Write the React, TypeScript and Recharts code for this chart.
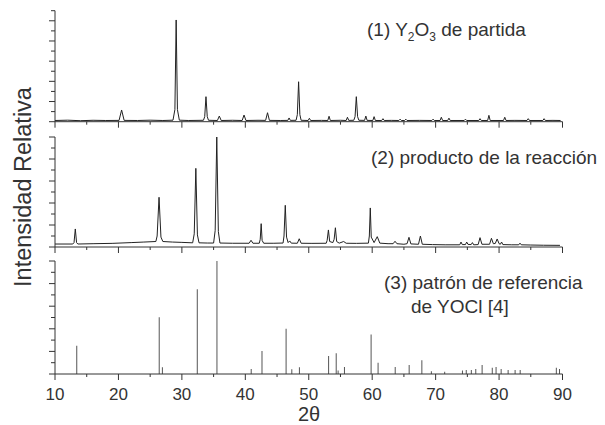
import React from "react";
import { LineChart, Line, BarChart, Bar, XAxis, YAxis } from "recharts";

// 2θ ticks shared by the three panels
const angleTicks = [10, 15, 20, 25, 30, 35, 40, 45, 50, 55, 60, 65, 70, 75, 80, 85, 90];
const ticksTop = [0, 1, 2, 3, 4, 5, 6, 7, 8, 9, 10, 11];
const ticksLower = [0, 1, 2, 3, 4, 5, 6, 7, 8, 9, 10];

// (1) Y2O3 de partida : [2θ, intensidad]
const scanY2O3: [number, number][] = [
  [10, 0.12], [12, 0.15], [14, 0.1], [16, 0.14], [18, 0.12], [20.1, 0.13], [20.5, 1.16], [20.9, 0.13],
  [23, 0.12], [25, 0.15], [27, 0.12], [28.6, 0.15], [28.9, 1.2], [29.1, 10.08], [29.3, 1.2], [29.6, 0.15],
  [31, 0.12], [33.4, 0.14], [33.6, 0.5], [33.8, 2.48], [34.0, 0.5], [34.2, 0.14], [35.6, 0.12], [35.9, 0.56],
  [36.2, 0.12], [38, 0.14], [39.5, 0.12], [39.8, 0.66], [40.1, 0.12], [42, 0.14], [43.2, 0.13], [43.5, 0.89],
  [43.8, 0.13], [45.5, 0.12], [46.7, 0.13], [46.9, 0.37], [47.1, 0.13], [48.0, 0.14], [48.2, 0.7], [48.4, 3.96],
  [48.6, 0.7], [48.8, 0.14], [49.9, 0.12], [50.1, 0.34], [50.3, 0.12], [52, 0.13], [53.0, 0.12], [53.2, 0.54],
  [53.4, 0.12], [55, 0.14], [55.9, 0.12], [56.1, 0.44], [56.3, 0.13], [57.1, 0.14], [57.3, 0.5], [57.5, 2.48],
  [57.7, 0.5], [57.9, 0.14], [58.8, 0.13], [59.0, 0.56], [59.2, 0.13], [60.1, 0.12], [60.3, 0.5], [60.5, 0.12],
  [61.5, 0.12], [61.7, 0.3], [61.9, 0.12], [63, 0.13], [64.2, 0.12], [64.4, 0.25], [64.6, 0.12], [65.1, 0.12],
  [65.3, 0.25], [65.5, 0.12], [67.5, 0.13], [69.4, 0.12], [69.6, 0.25], [69.8, 0.12], [70.7, 0.12], [70.9, 0.44],
  [71.1, 0.12], [71.9, 0.12], [72.1, 0.35], [72.3, 0.12], [74.5, 0.12], [74.7, 0.25], [74.9, 0.12], [76.8, 0.12],
  [77.0, 0.3], [77.2, 0.12], [78.2, 0.12], [78.4, 0.63], [78.6, 0.12], [80.7, 0.12], [80.9, 0.44], [81.1, 0.12],
  [82.5, 0.13], [84.4, 0.12], [84.6, 0.3], [84.8, 0.12], [86.9, 0.12], [87.1, 0.3], [87.3, 0.12], [88.5, 0.13],
  [89.7, 0.12],
];

// (2) producto de la reacción
const scanProduct: [number, number][] = [
  [10, 0.27], [12.8, 0.27], [13.0, 0.4], [13.2, 1.64], [13.4, 0.4], [13.6, 0.27], [16, 0.3], [19, 0.33],
  [22, 0.4], [24, 0.45], [25.9, 0.5], [26.1, 1.0], [26.4, 4.52], [26.7, 0.9], [27.0, 0.5], [28.5, 0.45],
  [30, 0.42], [31.7, 0.38], [31.95, 1.2], [32.2, 7.15], [32.45, 1.1], [32.7, 0.38], [34, 0.36], [35.0, 0.36],
  [35.25, 1.5], [35.5, 10.0], [35.75, 1.4], [36.0, 0.36], [38, 0.34], [40.6, 0.34], [40.9, 0.61], [41.2, 0.34],
  [42.2, 0.34], [42.35, 0.7], [42.5, 2.12], [42.65, 0.6], [42.9, 0.34], [44.5, 0.34], [45.95, 0.36], [46.1, 1.0],
  [46.3, 3.79], [46.5, 0.9], [46.75, 0.4], [47.0, 0.55], [47.25, 0.35], [48.2, 0.34], [48.5, 0.75], [48.8, 0.34],
  [50.5, 0.33], [52.75, 0.34], [52.9, 0.6], [53.1, 1.55], [53.3, 0.5], [53.8, 0.4], [54.0, 0.7], [54.2, 1.75],
  [54.4, 0.5], [54.8, 0.35], [55.5, 0.5], [55.9, 0.34], [57.5, 0.33], [59.4, 0.35], [59.55, 1.0], [59.7, 3.55],
  [59.85, 0.9], [60.3, 0.4], [60.8, 0.94], [61.2, 0.35], [62.5, 0.3], [63.3, 0.3], [63.6, 0.52], [63.9, 0.3],
  [65.0, 0.25], [65.5, 0.3], [65.8, 0.88], [66.1, 0.28], [67.3, 0.25], [67.6, 1.0], [67.9, 0.25], [69.5, 0.22],
  [71.5, 0.2], [73.8, 0.2], [74.0, 0.45], [74.2, 0.22], [74.7, 0.22], [74.9, 0.45], [75.1, 0.24], [75.6, 0.22],
  [75.8, 0.4], [76.0, 0.2], [76.7, 0.22], [77.0, 0.85], [77.3, 0.25], [78.5, 0.25], [78.8, 0.79], [79.1, 0.3],
  [79.4, 0.32], [79.7, 0.73], [80.0, 0.3], [80.2, 0.25], [80.4, 0.45], [80.6, 0.22], [82, 0.2], [83.1, 0.2],
  [83.3, 0.35], [83.5, 0.2], [85, 0.18], [87, 0.16], [89.6, 0.15],
];

// (3) patrón de referencia de YOCl [4]
const refAngles = [
  13.5, 26.5, 27.0, 32.5, 35.6, 41.0, 42.7, 46.5, 47.4, 48.6, 53.2, 54.4, 54.7, 55.7, 59.9, 61.0, 63.7,
  65.9, 67.9, 69.4, 71.5, 74.3, 74.9, 75.7, 76.4, 77.4, 79.0, 79.6, 80.4, 81.5, 82.6, 83.4, 89.1, 89.6,
];
const refIntensities = [
  2.5, 5.02, 0.59, 7.5, 10.0, 0.44, 2.04, 4.0, 0.42, 0.59, 1.6, 1.83, 0.3, 0.62, 3.5, 1.0, 0.62,
  0.8, 1.21, 0.25, 0.2, 0.3, 0.35, 0.35, 0.45, 0.8, 0.55, 0.62, 0.45, 0.35, 0.35, 0.35, 0.55, 0.45,
];

const font = "'Liberation Sans', Arial, sans-serif";
const ink = "#333";
const W = 605;
const H = 425;
const AXIS_W = 55;
const AXIS_H = 30;

const XTick = (props: any) => {
  const { x, y, payload, showLabel } = props;
  const major = payload.value % 10 === 0;
  return (
    <g>
      <line x1={x} y1={y} x2={x} y2={y + (major ? 6 : 3)} stroke={ink} />
      {showLabel && major && (
        <text x={x} y={y + 26} textAnchor="middle" fontSize={17} fontFamily={font} fill={ink}>
          {payload.value}
        </text>
      )}
    </g>
  );
};

const YTick = (props: any) => {
  const { x, y, payload } = props;
  const len = payload.value % 2 === 0 ? 6 : 4;
  return <line x1={x} y1={y} x2={x - len} y2={y} stroke={ink} />;
};

const toRows = (pts: [number, number][]) => pts.map(([t, i]) => ({ t, i }));
const refRows = refAngles.map((t, k) => ({ t, i: refIntensities[k] }));

const layer: React.CSSProperties = { position: "absolute", left: 0, top: 0 };

export default function App() {
  const xAxis = (showLabel: boolean) => (
    <XAxis
      dataKey="t"
      type="number"
      domain={[10, 90]}
      ticks={angleTicks}
      allowDataOverflow
      height={AXIS_H}
      tickSize={0}
      tickMargin={0}
      tickLine={false}
      axisLine={{ stroke: ink }}
      tick={(p: any) => <XTick {...p} showLabel={showLabel} />}
      interval={0}
    />
  );
  const yAxis = (ticks: number[]) => (
    <YAxis
      type="number"
      domain={[0, ticks[ticks.length - 1]]}
      ticks={ticks}
      allowDataOverflow
      width={AXIS_W}
      tickSize={0}
      tickMargin={0}
      tickLine={false}
      axisLine={{ stroke: ink }}
      tick={(p: any) => <YTick {...p} />}
      interval={0}
    />
  );
  const side = { left: 0, right: 42.5 };
  return (
    <div style={{ position: "absolute", left: 0, top: 0, width: W, height: H, background: "#fff", fontFamily: font, overflow: "hidden" }}>
      <div style={layer}>
        <LineChart width={W} height={H} data={toRows(scanY2O3)} margin={{ top: 10.7, bottom: H - 121.7 - AXIS_H, ...side }}>
          {xAxis(false)}
          {yAxis(ticksTop)}
          <Line dataKey="i" type="linear" stroke="#222" strokeWidth={1} dot={false} isAnimationActive={false} />
        </LineChart>
      </div>
      <div style={layer}>
        <LineChart width={W} height={H} data={toRows(scanProduct)} margin={{ top: 137, bottom: H - 247 - AXIS_H, ...side }}>
          {xAxis(false)}
          {yAxis(ticksLower)}
          <Line dataKey="i" type="linear" stroke="#222" strokeWidth={1} dot={false} isAnimationActive={false} />
        </LineChart>
      </div>
      <div style={layer}>
        <BarChart width={W} height={H} data={refRows} margin={{ top: 261, bottom: H - 374 - AXIS_H, ...side }}>
          {xAxis(true)}
          {yAxis(ticksLower)}
          <Bar dataKey="i" fill="#555" barSize={1} isAnimationActive={false} />
        </BarChart>
      </div>

      <div style={{ position: "absolute", left: 367, top: 19, fontSize: 19, color: ink, whiteSpace: "nowrap" }}>
        (1) Y<sub style={{ fontSize: 12 }}>2</sub>O<sub style={{ fontSize: 12 }}>3</sub> de partida
      </div>
      <div style={{ position: "absolute", left: 371, top: 147, fontSize: 19, color: ink, whiteSpace: "nowrap" }}>
        (2) producto de la reacción
      </div>
      <div style={{ position: "absolute", left: 384, top: 271, fontSize: 19, color: ink, whiteSpace: "nowrap", lineHeight: "24px" }}>
        (3) patrón de referencia
        <br />
        <span style={{ paddingLeft: 27 }}>de YOCl [4]</span>
      </div>
      <div
        style={{
          position: "absolute",
          left: 23,
          top: 187,
          transform: "translate(-50%, -50%) rotate(-90deg)",
          fontSize: 23.5,
          color: ink,
          whiteSpace: "nowrap",
        }}
      >
        Intensidad Relativa
      </div>
      <div style={{ position: "absolute", left: 298, top: 404, fontSize: 20, lineHeight: "20px", color: ink, whiteSpace: "nowrap" }}>
        2θ
      </div>
    </div>
  );
}
